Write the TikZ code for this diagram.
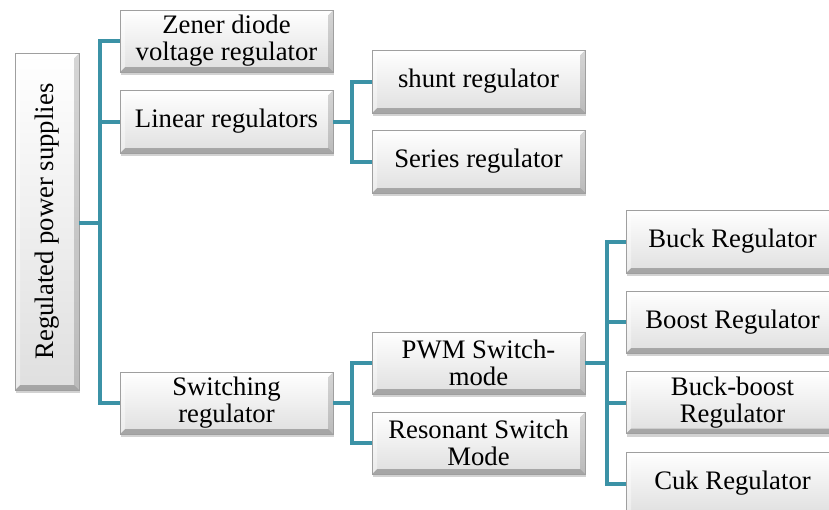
\documentclass[tikz,border=0pt]{standalone}
\usepackage{fontspec}
\setmainfont{Liberation Serif}
\newfontfamily\timesfont{Liberation Serif}
\usetikzlibrary{shadows,calc}
\definecolor{teal1}{RGB}{59,146,166}
\newcommand\boxfont{\timesfont\fontsize{26.7}{27}\selectfont}
\tikzset{
  bevelbox/.style={draw=gray!75, line width=0.6pt, top color=white, bottom color=gray!25,
    minimum width=213pt, minimum height=63pt, inner sep=0pt, align=center, font=\boxfont,
    drop shadow={shadow xshift=1pt, shadow yshift=-3pt, opacity=0.35},
    path picture={
      \fill[black,opacity=.26] (path picture bounding box.south west) -- (path picture bounding box.south east)
        -- ([shift={(-5pt,5pt)}]path picture bounding box.south east) -- ([shift={(5pt,5pt)}]path picture bounding box.south west) -- cycle;
      \fill[black,opacity=.16] (path picture bounding box.south east) -- (path picture bounding box.north east)
        -- ([shift={(-5pt,-5pt)}]path picture bounding box.north east) -- ([shift={(-5pt,5pt)}]path picture bounding box.south east) -- cycle;
      \fill[white,opacity=.9] (path picture bounding box.north west) -- (path picture bounding box.north east)
        -- ([shift={(-5pt,-5pt)}]path picture bounding box.north east) -- ([shift={(5pt,-5pt)}]path picture bounding box.north west) -- cycle;
      \fill[white,opacity=.4] (path picture bounding box.north west) -- (path picture bounding box.south west)
        -- ([shift={(5pt,5pt)}]path picture bounding box.south west) -- ([shift={(5pt,-5pt)}]path picture bounding box.north west) -- cycle;
    }},
  conn/.style={draw=teal1, line width=4pt}
}
\begin{document}
\begin{tikzpicture}[x=1pt,y=-1pt]
\clip (0,0) rectangle (829,509);
\fill[white] (0,0) rectangle (829,509);
% nodes
\node[bevelbox, minimum width=64pt, minimum height=337pt] (root) at (47,221.5) {\rotatebox{90}{Regulated power supplies}};
\node[bevelbox, minimum height=62pt] (zener) at (226.5,41) {Zener diode\\voltage regulator};
\node[bevelbox] (linear) at (226.5,121.5) {Linear regulators};
\node[bevelbox, minimum height=62pt] (switching) at (226.5,403) {Switching\\regulator};
\node[bevelbox] (shunt) at (478.5,81.5) {shunt regulator};
\node[bevelbox] (series) at (478.5,161.5) {Series regulator};
\node[bevelbox, minimum height=62pt] (pwm) at (478.5,363) {PWM Switch-\\mode};
\node[bevelbox, minimum height=62pt] (resonant) at (478.5,443) {Resonant Switch\\Mode};
\node[bevelbox] (buck) at (732.5,241.5) {Buck Regulator};
\node[bevelbox, minimum height=62pt] (boost) at (732.5,322) {Boost Regulator};
\node[bevelbox, minimum height=62pt] (buckboost) at (732.5,402.5) {Buck-boost\\Regulator};
\node[bevelbox] (cuk) at (732.5,483.5) {Cuk Regulator};
% bus coordinates
\coordinate (busA) at (100,0);
\coordinate (busB) at (352,0);
\coordinate (busC) at (607,0);
% connectors
\draw[conn] (root.east |- 0,223) -- (busA |- 0,223);
\draw[conn] (zener.west) -- (zener.west -| busA) -- (switching.west -| busA) -- (switching.west);
\draw[conn] (linear.west) -- (linear.west -| busA);
\draw[conn] (linear.east) -- (linear.east -| busB);
\draw[conn] (shunt.west) -- (shunt.west -| busB) -- (series.west -| busB) -- (series.west);
\draw[conn] (switching.east) -- (switching.east -| busB);
\draw[conn] (pwm.west) -- (pwm.west -| busB) -- (resonant.west -| busB) -- (resonant.west);
\draw[conn] (pwm.east) -- (pwm.east -| busC);
\draw[conn] (buck.west) -- (buck.west -| busC) -- (cuk.west -| busC) -- (cuk.west);
\draw[conn] (boost.west) -- (boost.west -| busC);
\draw[conn] (buckboost.west) -- (buckboost.west -| busC);
\end{tikzpicture}
\end{document}
